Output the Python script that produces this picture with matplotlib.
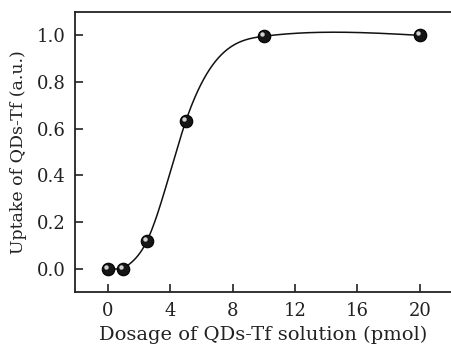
import numpy as np
import matplotlib
matplotlib.use("Agg")
import matplotlib.pyplot as plt
from matplotlib.transforms import offset_copy

dosage = [0, 1, 2.5, 5, 10, 20]
uptake = [0.0, 0.0, 0.117, 0.632, 0.996, 1.0]
xticks = [0, 4, 8, 12, 16, 20]
yticks = [0.0, 0.2, 0.4, 0.6, 0.8, 1.0]


def natural_spline(xs, ys, xq):
    xs = np.asarray(xs, float); ys = np.asarray(ys, float)
    n = len(xs)
    h = np.diff(xs)
    A = np.zeros((n, n)); b = np.zeros(n)
    A[0, 0] = 1; A[-1, -1] = 1
    for i in range(1, n - 1):
        A[i, i - 1] = h[i - 1]
        A[i, i] = 2 * (h[i - 1] + h[i])
        A[i, i + 1] = h[i]
        b[i] = 6 * ((ys[i + 1] - ys[i]) / h[i] - (ys[i] - ys[i - 1]) / h[i - 1])
    M = np.linalg.solve(A, b)
    out = np.empty_like(xq)
    for k, x in enumerate(xq):
        i = min(max(np.searchsorted(xs, x) - 1, 0), n - 2)
        t0 = xs[i + 1] - x; t1 = x - xs[i]
        out[k] = (M[i] * t0 ** 3 + M[i + 1] * t1 ** 3) / (6 * h[i]) + \
            (ys[i] / h[i] - M[i] * h[i] / 6) * t0 + (ys[i + 1] / h[i] - M[i + 1] * h[i] / 6) * t1
    return out


plt.rcParams['font.family'] = ['DejaVu Serif']
fig = plt.figure(figsize=(4.51, 3.47), dpi=100)
ax = fig.add_axes([75 / 451, 1 - 292 / 347, 1 - 75 / 451, 280 / 347])

# smooth curve: flat segment then spline through the remaining points
ax.plot(dosage[:2], uptake[:2], color='#111111', lw=1.1)
xs = np.linspace(dosage[1], dosage[-1], 400)
ax.plot(xs, natural_spline(dosage[1:], uptake[1:], xs), color='#111111', lw=1.1)

ax.plot(dosage, uptake, 'o', ms=9, color='#151515', mec='#000000', mew=0.8, zorder=3)
hl = offset_copy(ax.transData, fig=fig, x=-1.5, y=1.5, units='points')
ax.plot(dosage, uptake, 'o', ms=3.2, color='#d0d0d0', mec='none', transform=hl, zorder=4)

ax.set_xlim(-2.1, 22)
ax.set_ylim(-0.1, 1.1)
ax.set_xticks(xticks)
ax.set_xticklabels([str(t) for t in xticks])
ax.set_yticks(yticks)
ax.set_yticklabels([f"{t:.1f}" for t in yticks])
ax.tick_params(direction='in', length=6, width=1.2, labelsize=13, pad=7, colors='#222222')
ax.spines['right'].set_visible(False)
for s in ['left', 'bottom', 'top']:
    ax.spines[s].set_linewidth(1.3)
    ax.spines[s].set_color('#222222')
ax.set_xlabel('Dosage of QDs-Tf solution (pmol)', fontsize=14, labelpad=4, color='#222222')
ax.set_ylabel('Uptake of QDs-Tf (a.u.)', fontsize=12.5, labelpad=7, color='#222222')

fig.savefig('out.png', dpi=100)
